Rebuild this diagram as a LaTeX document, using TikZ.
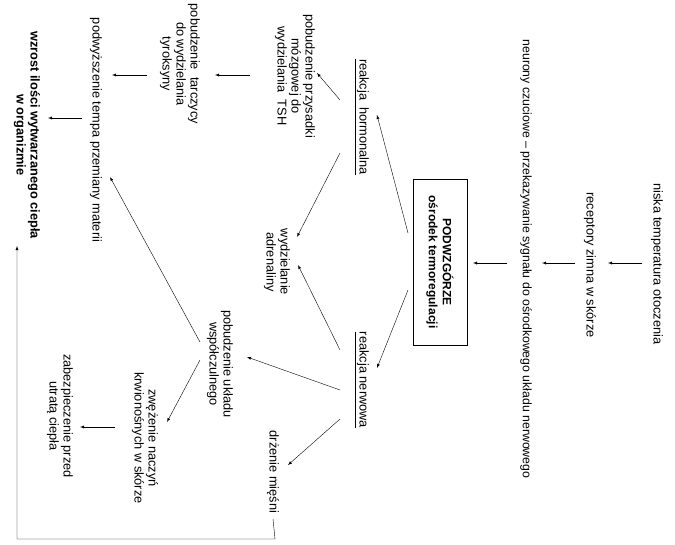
\documentclass[tikz,border=0pt]{standalone}
\usepackage{fontspec}
\setmainfont{Liberation Sans}
\usetikzlibrary{calc}
\begin{document}
\begin{tikzpicture}[x=1pt,y=-1pt,
  t/.style={rotate=-90,align=center,font=\fontsize{12.8}{14}\selectfont,inner sep=2pt},
  b/.style={t,font=\bfseries\fontsize{12.8}{14}\selectfont},
  ar/.style={-latex,thin}]
\useasboundingbox (0,0) rectangle (675,544);
\node[t] (nis) at (657,264) {niska temperatura otoczenia};
\node[t] (rec) at (590,265) {receptory zimna w skórze};
\node[t,font=\fontsize{12.3}{14}\selectfont] (neu) at (526,259) {neurony czuciowe -- przekazywanie sygnału do ośrodkowego układu nerwowego};
\node[b,draw,inner sep=4pt,minimum height=54pt,minimum width=166pt,font=\bfseries\fontsize{12}{14}\selectfont] (box) at (440,262) {PODWZGÓRZE\\ośrodek termoregulacji};
\node[t] (hor) at (362,117) {\underline{reakcja\ \ hormonalna}};
\node[t] (ner) at (362,380) {\underline{reakcja nerwowa}};
\node[t] (prz) at (295,76) {pobudzenie przysadki\\mózgowej do\\wydzielania\ \ TSH};
\node[t] (adr) at (277,262) {wydzielanie\\adrenaliny};
\node[t] (tar) at (180,64) {pobudzenie\ \ tarczycy\\do wydzielania\\tyroksyny};
\node[t] (pod) at (96,130) {podwyższenie tempa przemiany materii};
\node[b] (wzr) at (27,135) {wzrost ilości wytwarzanego ciepła\\w organizmie};
\node[t] (wsp) at (220,364) {pobudzenie układu\\współczulnego};
\node[t] (drz) at (273,472) {drżenie mięśni};
\node[t] (zwe) at (145,438) {zwężenie naczyń\\krwionośnych w skórze};
\node[t] (zab) at (60,416) {zabezpieczenie przed\\utratą ciepła};
\coordinate (c1) at (275,539);
\coordinate (c2) at (17,539);
\coordinate (c3) at (17,246);
\draw[ar] ($(nis)+(-15,-1)$) -- ($(rec)+(18,-2)$);
\draw[ar] ($(rec)+(-15,-2)$) -- ($(neu)+(16,4)$);
\draw[ar] ($(neu)+(-19,4)$) -- ($(box)+(33,1)$);
\draw[ar] ($(box)+(-32,-29)$) -- ($(hor)+(15,-2)$);
\draw[ar] ($(box)+(-32,28)$) -- ($(ner)+(15,-12)$);
\draw[ar] ($(hor)+(-22,-17)$) -- ($(prz)+(22,-3)$);
\draw[ar] ($(hor)+(-22,36)$) -- ($(adr)+(20,-25)$);
\draw[ar] ($(ner)+(-22,-30)$) -- ($(adr)+(21,3)$);
\draw[ar] ($(ner)+(-22,10)$) -- ($(wsp)+(27,-7)$);
\draw[ar] ($(ner)+(-22,39)$) -- ($(drz)+(15,-7)$);
\draw[ar] ($(prz)+(-45,-1)$) -- ($(tar)+(35,11)$);
\draw[ar] ($(tar)+(-33,11)$) -- ($(pod)+(16,-55)$);
\draw[ar] ($(pod)+(-14,-12)$) -- ($(wzr)+(21,-17)$);
\draw[ar] ($(wsp)+(-20,-22)$) -- ($(pod)+(14,47)$);
\draw[ar] ($(wsp)+(-20,-4)$) -- ($(zwe)+(22,-16)$);
\draw[ar] ($(zwe)+(-30,-11)$) -- ($(zab)+(20,11)$);
\draw[ar] ($(drz)+(0,47)$) -- (c1) -- (c2) -- (c3);
\end{tikzpicture}
\end{document}
